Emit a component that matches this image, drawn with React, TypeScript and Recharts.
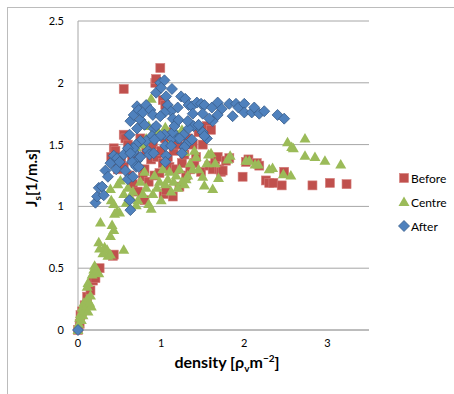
import React from 'react';
import { ScatterChart, Scatter, XAxis, YAxis, CartesianGrid, Legend } from 'recharts';

const seriesNames = ['Before', 'Centre', 'After'];
const xTicks = [0, 1, 2, 3];
const yTicks = [0, 0.5, 1, 1.5, 2, 2.5];

const before = [
  [0, 0], [0.02, 0.05], [0.03, 0.12], [0.05, 0.15], [0.08, 0.2], [0.11, 0.27], [0.15, 0.32], [0.18, 0.4],
  [0.21, 0.42], [0.26, 0.5], [0.42, 0.6], [0.43, 0.61],
  [0.4, 1.4], [0.43, 1.47], [0.45, 1.45], [0.48, 1.3], [0.5, 1.35], [0.52, 1.38], [0.55, 1.58], [0.57, 1.55],
  [0.55, 1.32], [0.6, 1.5], [0.62, 1.25], [0.65, 1.4], [0.66, 1.18], [0.68, 1.45], [0.7, 1.35], [0.72, 1.12],
  [0.75, 1.55], [0.78, 1.24], [0.8, 1.3], [0.8, 1.05], [0.82, 1.45], [0.85, 1.2], [0.88, 1.38], [0.9, 1.5],
  [0.92, 1.25], [0.95, 1.4], [0.98, 1.27], [1.0, 1.45], [1.02, 1.35], [1.03, 1.1], [1.05, 1.55], [1.06, 1.13],
  [1.08, 1.4], [1.1, 1.32], [1.12, 1.6], [1.14, 1.08], [1.15, 1.45], [1.18, 1.3], [1.2, 1.5], [1.22, 1.16],
  [1.25, 1.35], [1.28, 1.42], [1.3, 1.25], [1.32, 1.55], [1.35, 1.3], [1.38, 1.5], [1.4, 1.35], [1.42, 1.4],
  [1.45, 1.6], [1.48, 1.28], [1.5, 1.5], [1.52, 1.59], [1.55, 1.65], [1.58, 1.33], [1.6, 1.62], [1.62, 1.3],
  [1.65, 1.38], [1.68, 1.4], [1.7, 1.3], [1.72, 1.28], [1.74, 1.29], [1.78, 1.37], [1.82, 1.39], [1.98, 1.24],
  [2.02, 1.36], [2.05, 1.38], [2.15, 1.35], [2.18, 1.33], [2.26, 1.21], [2.3, 1.19], [2.35, 1.19], [2.45, 1.17],
  [2.48, 1.28], [2.82, 1.17], [3.03, 1.19], [3.23, 1.18],
  [0.55, 1.95], [0.93, 2.0], [0.94, 2.03], [0.99, 2.12], [1.02, 1.86], [1.05, 1.82],
];

const centre = [
  [0, 0], [0.01, 0.05], [0.02, 0.1], [0.03, 0.13], [0.04, 0.08], [0.05, 0.18], [0.06, 0.12], [0.07, 0.22],
  [0.08, 0.16], [0.1, 0.2], [0.11, 0.25], [0.12, 0.15], [0.14, 0.22], [0.15, 0.28], [0.16, 0.19], [0.11, 0.35],
  [0.12, 0.38], [0.17, 0.45], [0.19, 0.49], [0.2, 0.52], [0.22, 0.48], [0.25, 0.46], [0.25, 0.71], [0.26, 0.66],
  [0.27, 0.87], [0.3, 0.62], [0.32, 0.67], [0.35, 0.65], [0.36, 0.6], [0.39, 0.76], [0.41, 0.85], [0.43, 0.81],
  [0.39, 0.61], [0.55, 0.65], [0.44, 0.94], [0.43, 1.02], [0.47, 0.96], [0.5, 0.95], [0.4, 1.05], [0.39, 1.14],
  [0.48, 1.18], [0.51, 1.21], [0.55, 1.1], [0.58, 1.03], [0.6, 1.15], [0.63, 1.08], [0.66, 1.12], [0.7, 1.01],
  [0.72, 1.05], [0.75, 1.2], [0.78, 1.1], [0.8, 1.28], [0.82, 1.15], [0.85, 1.02], [0.88, 0.98], [0.9, 1.1],
  [0.92, 1.25], [0.95, 1.15], [0.98, 1.2], [1.0, 1.05], [1.02, 1.3], [1.05, 1.18], [1.08, 1.22], [1.1, 1.28],
  [1.12, 1.12], [1.15, 1.2], [1.18, 1.25], [1.2, 1.15], [1.22, 1.3], [1.25, 1.2], [1.28, 1.18], [1.3, 1.22],
  [1.32, 1.25], [1.35, 1.35], [1.38, 1.3], [1.4, 1.45], [1.42, 1.4], [1.45, 1.3], [1.5, 1.24], [1.52, 1.17],
  [1.55, 1.35], [1.57, 1.42], [1.6, 1.43], [1.62, 1.14], [1.65, 1.35], [1.69, 1.23], [1.8, 1.38], [1.83, 1.41],
  [2.02, 1.37], [2.06, 1.37], [2.13, 1.34], [2.17, 1.34], [2.3, 1.3], [2.34, 1.31], [2.47, 1.26], [2.52, 1.52],
  [2.56, 1.25], [2.57, 1.48], [2.59, 1.47], [2.73, 1.55], [2.73, 1.41], [2.85, 1.4], [2.97, 1.37], [3.16, 1.34],
  [0.88, 1.87], [0.85, 1.65], [0.9, 1.6], [0.95, 1.62], [0.82, 1.55], [0.78, 1.5], [1.2, 1.58], [1.25, 1.62],
  [0.7, 1.48], [1.05, 1.64], [1.28, 1.44], [1.1, 1.5],
];

const after = [
  [0, 0], [0.21, 1.03], [0.23, 1.08], [0.25, 1.15], [0.29, 1.16], [0.31, 1.09], [0.33, 1.29], [0.36, 1.24],
  [0.39, 1.35], [0.43, 1.41], [0.47, 1.39], [0.46, 1.3], [0.5, 1.36], [0.55, 1.42], [0.57, 1.29], [0.6, 1.22],
  [0.62, 1.05], [0.63, 0.97], [0.66, 1.24], [0.62, 1.58], [0.63, 1.69], [0.67, 1.74], [0.71, 1.81], [0.73, 1.78],
  [0.75, 1.7], [0.71, 1.63], [0.78, 1.76], [0.82, 1.82], [0.8, 1.66], [0.87, 1.78], [0.9, 1.74], [0.91, 1.63],
  [0.89, 1.57], [0.82, 1.53], [0.84, 1.45], [0.86, 1.42], [0.91, 1.43], [0.94, 1.92], [0.99, 2.0], [1.04, 2.02],
  [1.0, 1.96], [1.06, 1.89], [1.13, 1.95], [1.08, 1.82], [1.12, 1.77], [1.04, 1.76], [0.99, 1.73], [1.14, 1.71],
  [1.2, 1.8], [1.24, 1.89], [1.29, 1.87], [1.33, 1.82], [1.37, 1.81], [1.43, 1.84], [1.48, 1.83], [1.52, 1.82],
  [1.61, 1.8], [1.68, 1.84], [1.73, 1.79], [1.82, 1.83], [1.86, 1.73], [1.9, 1.83], [1.93, 1.8], [2.0, 1.83],
  [2.0, 1.76], [2.09, 1.76], [2.12, 1.8], [2.18, 1.75], [2.24, 1.77], [2.4, 1.74], [2.48, 1.71], [1.62, 1.69],
  [1.68, 1.74], [1.58, 1.71], [1.5, 1.6], [1.44, 1.65], [1.39, 1.65], [1.33, 1.63], [1.27, 1.58], [1.2, 1.55],
  [1.13, 1.55], [1.06, 1.41], [1.05, 1.49], [1.12, 1.49], [1.14, 1.6], [1.16, 1.65], [1.21, 1.7], [1.32, 1.69],
  [1.38, 1.75], [1.45, 1.66], [1.5, 1.75], [1.3, 1.5], [1.37, 1.54], [1.28, 1.48], [1.22, 1.55], [1.04, 1.58],
  [0.99, 1.57], [0.94, 1.65], [0.92, 1.54], [0.75, 1.53], [0.7, 1.5], [0.67, 1.44], [0.71, 1.37], [0.65, 1.36],
  [0.7, 1.32], [0.75, 1.4], [0.73, 1.32], [0.67, 1.47], [0.6, 1.47], [0.63, 1.43], [1.55, 1.55], [1.52, 1.57],
  [1.25, 1.43], [1.05, 1.36],
];

const toData = (arr: number[][]) => arr.map(([x, y]) => ({ x, y }));

const RED = '#C0504D';
const GREEN = '#9BBB59';
const BLUE = '#4F81BD';
const BLUE_EDGE = '#385D8A';
const FONT = 'Lato, "Noto Sans", sans-serif';

const SquareShape = (p: any) => (
  <rect x={p.cx - 4.5} y={p.cy - 4.5} width={9} height={9} fill={RED} stroke="#D47D7A" strokeWidth={0.6} />
);
const TriangleShape = (p: any) => (
  <polygon
    points={`${p.cx},${p.cy - 5.5} ${p.cx + 5.5},${p.cy + 4} ${p.cx - 5.5},${p.cy + 4}`}
    fill={GREEN}
  />
);
const DiamondShape = (p: any) => (
  <polygon
    points={`${p.cx},${p.cy - 5.5} ${p.cx + 5.5},${p.cy} ${p.cx},${p.cy + 5.5} ${p.cx - 5.5},${p.cy}`}
    fill={BLUE}
    stroke={BLUE_EDGE}
    strokeWidth={0.8}
  />
);

const shapes = [SquareShape, TriangleShape, DiamondShape];

const LegendContent = () => (
  <div style={{ fontFamily: FONT, fontSize: 12, color: '#000' }}>
    {seriesNames.map((name, i) => {
      const S = shapes[i];
      return (
        <div key={name} style={{ display: 'flex', alignItems: 'center', height: 24 }}>
          <svg width={12} height={12} style={{ marginRight: 1 }}>
            <S cx={6} cy={6} />
          </svg>
          <span>{name}</span>
        </div>
      );
    })}
  </div>
);

const YLabel = () => (
  <text
    x={37}
    y={178}
    transform="rotate(-90 37 178)"
    textAnchor="middle"
    fontFamily={FONT}
    fontWeight="bold"
    fontSize={15}
    fill="#000"
  >
    J<tspan fontSize={10} dy={4}>s</tspan>
    <tspan dy={-4}>[1/m.s]</tspan>
  </text>
);

const XLabel = () => (
  <text x={227} y={368} textAnchor="middle" fontFamily={FONT} fontWeight="bold" fontSize={16} fill="#000">
    density [ρ<tspan fontSize={10} dy={4}>v</tspan>
    <tspan dy={-4}>m</tspan>
    <tspan fontSize={10} dy={-6}>−2</tspan>
    <tspan dy={6}>]</tspan>
  </text>
);

export default function App() {
  return (
    <div style={{ position: 'absolute', left: 0, top: 0, width: 454, height: 394, background: '#fff' }}>
      <div
        style={{
          position: 'absolute',
          left: 7,
          top: 7,
          width: 460,
          height: 400,
          borderLeft: '1px solid #bcbcbc',
          borderTop: '1px solid #bcbcbc',
        }}
      />
      <ScatterChart width={454} height={394} margin={{ top: 21, right: 25, bottom: 0, left: 0 }}>
        <CartesianGrid vertical={false} stroke="#a6a6a6" strokeWidth={1} />
        <XAxis
          type="number"
          dataKey="x"
          domain={[0, 3.5]}
          ticks={xTicks}
          tickLine={false}
          axisLine={{ stroke: '#a6a6a6' }}
          tick={{ fontFamily: FONT, fontSize: 11, fill: '#000' }}
          tickMargin={3}
          height={64}
          label={<XLabel />}
        />
        <YAxis
          type="number"
          dataKey="y"
          domain={[0, 2.5]}
          ticks={yTicks}
          tickLine={false}
          axisLine={{ stroke: '#a6a6a6' }}
          tick={{ fontFamily: FONT, fontSize: 11, fill: '#000' }}
          tickMargin={8}
          width={78}
          label={<YLabel />}
        />
        <Legend
          layout="vertical"
          align="right"
          verticalAlign="middle"
          content={<LegendContent />}
          wrapperStyle={{ position: 'absolute', left: 398, top: 166, width: 60 }}
        />
        <Scatter name="Before" data={toData(before)} shape={SquareShape} isAnimationActive={false} />
        <Scatter name="Centre" data={toData(centre)} shape={TriangleShape} isAnimationActive={false} />
        <Scatter name="After" data={toData(after)} shape={DiamondShape} isAnimationActive={false} />
      </ScatterChart>
    </div>
  );
}
